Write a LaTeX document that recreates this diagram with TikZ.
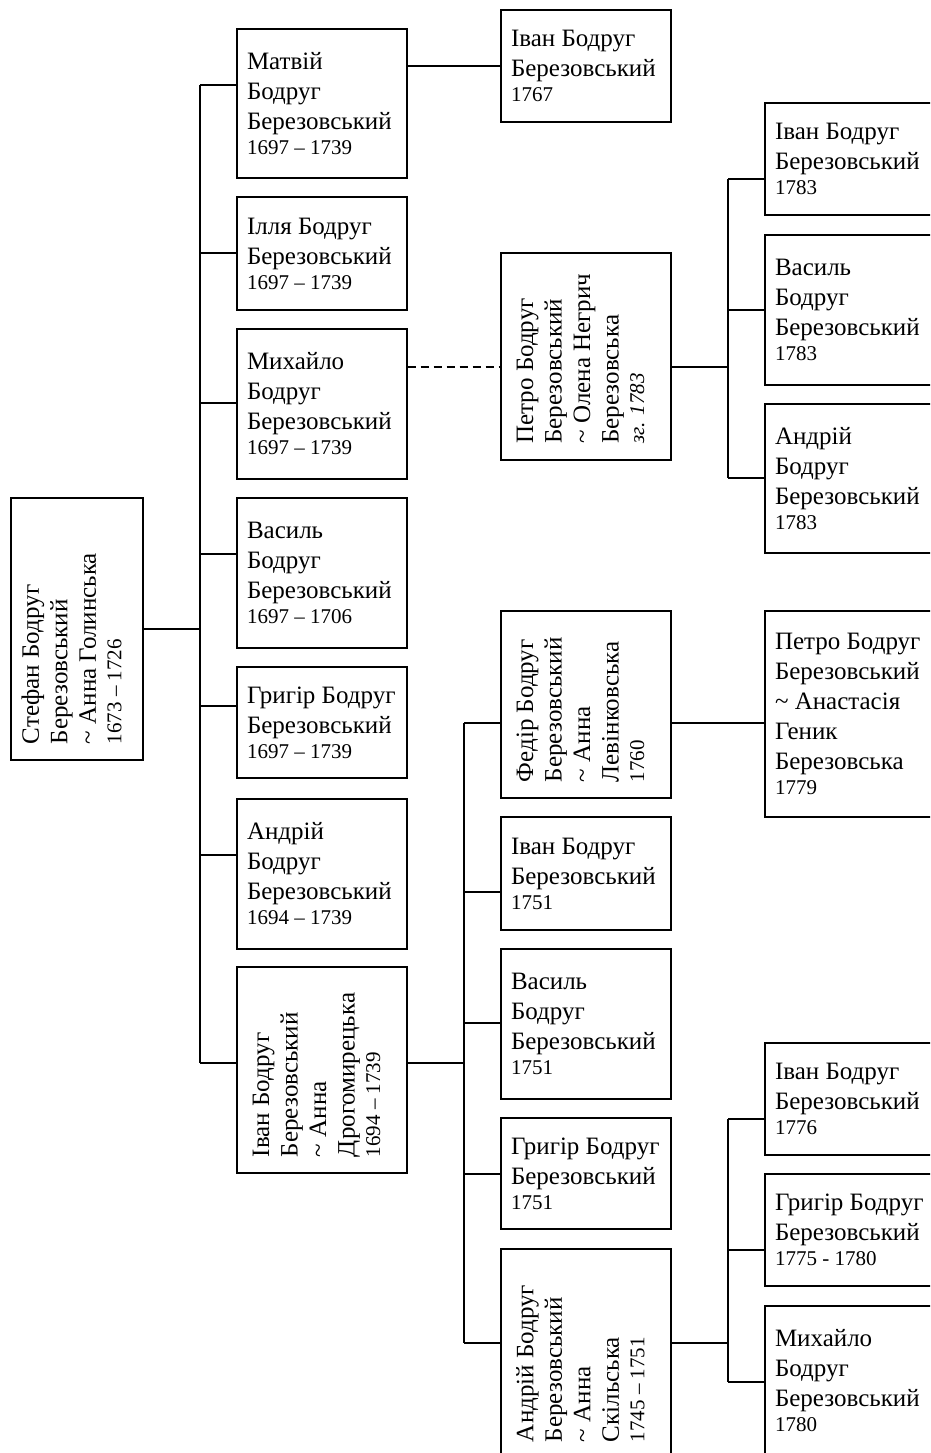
\documentclass[tikz,border=0pt]{standalone}
\usepackage{fontspec}
\setmainfont{Liberation Serif}
\usepackage{graphicx}
\newcommand\yr[1]{{\fontsize{21}{25}\selectfont #1}}
\newcommand\rtext[2]{\rotatebox{90}{\parbox{#1}{\raggedright #2}}\rule{11pt}{0pt}}
\tikzset{
  pbox/.style={draw,line width=1.2pt,rectangle,inner xsep=10pt,inner ysep=0pt,
    text width=150pt,align=flush left,font=\fontsize{25}{30}\selectfont},
  rbox/.style={draw,line width=1.2pt,rectangle,inner sep=0pt,
    font=\fontsize{25}{28.5}\selectfont},
  link/.style={line width=1.2pt}
}
\begin{document}
\begin{tikzpicture}[x=1pt,y=-1pt]
\useasboundingbox (0,0) rectangle (930,1453);
\clip (0,0) rectangle (930,1453);
% first generation
\node[rbox,minimum width=132pt,minimum height=262pt] (stefan) at (77,629)
  {\rtext{230pt}{Стефан Бодруг\\ Березовський\\ \textasciitilde{} Анна Голинська\\[-3pt] \yr{1673 – 1726}}};
% second generation
\node[pbox,minimum height=149pt] (matviy) at (322,103.5) {Матвій\\ Бодруг\\ Березовський\\[-5pt] \yr{1697 – 1739}};
\node[pbox,minimum height=113pt] (illia) at (322,253.5) {Ілля Бодруг\\ Березовський\\[-5pt] \yr{1697 – 1739}};
\node[pbox,minimum height=150pt] (mykhailo) at (322,404) {Михайло\\ Бодруг\\ Березовський\\[-5pt] \yr{1697 – 1739}};
\node[pbox,minimum height=150pt] (vasyl) at (322,573) {Василь\\ Бодруг\\ Березовський\\[-5pt] \yr{1697 – 1706}};
\node[pbox,minimum height=111pt] (hryhir) at (322,722.5) {Григір Бодруг\\ Березовський\\[-5pt] \yr{1697 – 1739}};
\node[pbox,minimum height=150pt] (andrii) at (322,874) {Андрій\\ Бодруг\\ Березовський\\[-5pt] \yr{1694 – 1739}};
\node[rbox,minimum width=170pt,minimum height=206pt] (ivan) at (322,1070)
  {\rtext{174pt}{Іван Бодруг\\ Березовський\\ \textasciitilde{} Анна\\ Дрогомирецька\\[-3pt] \yr{1694 – 1739}}};
% third generation
\node[pbox,minimum height=112pt] (ivanA) at (586,66) {Іван Бодруг\\ Березовський\\[-5pt] \yr{1767}};
\node[rbox,minimum width=170pt,minimum height=207pt] (petro) at (586,356.5)
  {\rtext{174pt}{Петро Бодруг\\ Березовський\\ \textasciitilde{} Олена Негрич\\ Березовська\\[-3pt] \yr{\textit{зг. 1783}}}};
\node[rbox,minimum width=170pt,minimum height=187pt] (fedir) at (586,704.5)
  {\rtext{155pt}{Федір Бодруг\\ Березовський\\ \textasciitilde{} Анна\\ Левінковська\\[-3pt] \yr{1760}}};
\node[pbox,minimum height=113pt] (ivanB) at (586,873.5) {Іван Бодруг\\ Березовський\\[-5pt] \yr{1751}};
\node[pbox,minimum height=150pt] (vasylB) at (586,1024) {Василь\\ Бодруг\\ Березовський\\[-5pt] \yr{1751}};
\node[pbox,minimum height=111pt] (hryhirB) at (586,1173.5) {Григір Бодруг\\ Березовський\\[-5pt] \yr{1751}};
\node[rbox,minimum width=170pt,minimum height=209pt] (andriiB) at (586,1353.5)
  {\rtext{177pt}{Андрій Бодруг\\ Березовський\\ \textasciitilde{} Анна\\ Скільська\\[-3pt] \yr{1745 – 1751}}};
% fourth generation
\node[pbox,minimum height=112pt] (ivanC) at (850,159) {Іван Бодруг\\ Березовський\\[-5pt] \yr{1783}};
\node[pbox,minimum height=150pt] (vasylC) at (850,310) {Василь\\ Бодруг\\ Березовський\\[-5pt] \yr{1783}};
\node[pbox,minimum height=149pt] (andriiC) at (850,478.5) {Андрій\\ Бодруг\\ Березовський\\[-5pt] \yr{1783}};
\node[pbox,minimum height=206pt] (petroC) at (850,714) {Петро Бодруг\\ Березовський\\ \textasciitilde{} Анастасія\\ Геник\\ Березовська\\[-5pt] \yr{1779}};
\node[pbox,minimum height=112pt] (ivanD) at (850,1099) {Іван Бодруг\\ Березовський\\[-5pt] \yr{1776}};
\node[pbox,minimum height=112pt] (hryhirD) at (850,1230) {Григір Бодруг\\ Березовський\\[-5pt] \yr{1775 - 1780}};
\node[pbox,minimum height=150pt] (mykhailoD) at (850,1381) {Михайло\\ Бодруг\\ Березовський\\[-5pt] \yr{1780}};
% buses
\coordinate (a1) at (200,85);
\coordinate (a2) at (200,253);
\coordinate (a3) at (200,403);
\coordinate (a4) at (200,554);
\coordinate (a5) at (200,706);
\coordinate (a6) at (200,855);
\coordinate (a7) at (200,1063);
\draw[link] (a1) -- (a7);
\draw[link] (stefan.east) -- (stefan.east -| a1);
\draw[link] (a1) -- (a1 -| matviy.west);
\draw[link] (a2) -- (a2 -| illia.west);
\draw[link] (a3) -- (a3 -| mykhailo.west);
\draw[link] (a4) -- (a4 -| vasyl.west);
\draw[link] (a5) -- (a5 -| hryhir.west);
\draw[link] (a6) -- (a6 -| andrii.west);
\draw[link] (a7) -- (a7 -| ivan.west);
\draw[link] (ivanA.west -| matviy.east) -- (ivanA.west);
\coordinate (d1) at (450,367);
\draw[link,dash pattern=on 8pt off 5pt] (d1 -| mykhailo.east) -- (d1 -| petro.west);
\coordinate (b1) at (464,723);
\coordinate (b2) at (464,892);
\coordinate (b3) at (464,1023);
\coordinate (b4) at (464,1174);
\coordinate (b5) at (464,1343);
\draw[link] (b1) -- (b5);
\draw[link] (a7 -| ivan.east) -- (a7 -| b1);
\draw[link] (b1) -- (b1 -| fedir.west);
\draw[link] (b2) -- (b2 -| ivanB.west);
\draw[link] (b3) -- (b3 -| vasylB.west);
\draw[link] (b4) -- (b4 -| hryhirB.west);
\draw[link] (b5) -- (b5 -| andriiB.west);
\draw[link] (b1 -| fedir.east) -- (b1 -| petroC.west);
\coordinate (c1) at (728,179);
\coordinate (c2) at (728,310);
\coordinate (c3) at (728,478);
\draw[link] (c1) -- (c3);
\draw[link] (d1 -| petro.east) -- (d1 -| c1);
\draw[link] (c1) -- (c1 -| ivanC.west);
\draw[link] (c2) -- (c2 -| vasylC.west);
\draw[link] (c3) -- (c3 -| andriiC.west);
\coordinate (c4) at (728,1119);
\coordinate (c5) at (728,1250);
\coordinate (c6) at (728,1382);
\draw[link] (c4) -- (c6);
\draw[link] (b5 -| andriiB.east) -- (b5 -| c4);
\draw[link] (c4) -- (c4 -| ivanD.west);
\draw[link] (c5) -- (c5 -| hryhirD.west);
\draw[link] (c6) -- (c6 -| mykhailoD.west);
\end{tikzpicture}
\end{document}
